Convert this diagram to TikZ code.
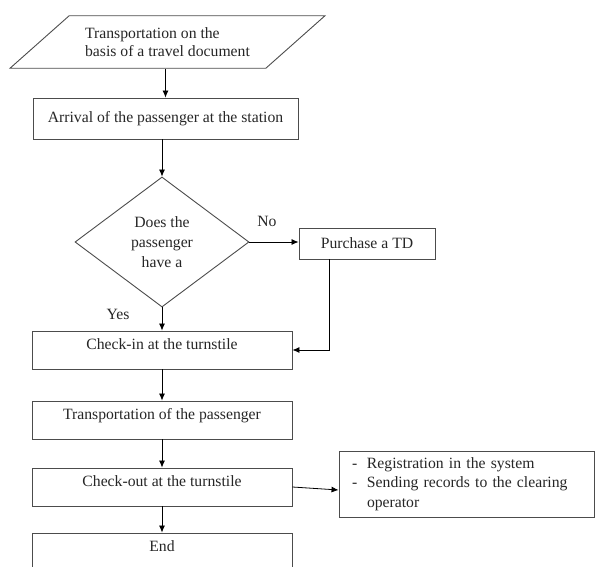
\documentclass[tikz,border=0pt]{standalone}
\usepackage{fontspec}
\setmainfont{Liberation Serif}
\usetikzlibrary{shapes.geometric,arrows.meta}

\begin{document}
\begin{tikzpicture}[x=1pt,y=-1pt,font=\fontsize{15.7}{19.5}\selectfont,color=black!85]
  \tikzstyle{box}=[draw=black!70,line width=0.9pt,rectangle,minimum width=260pt,minimum height=38pt,inner sep=0pt]
  \tikzstyle{arr}=[draw=black,line width=0.8pt,-{Latex[length=7pt,width=6pt]}]
  \newcommand\flowbox[4]{\node[box,text height=11pt,text depth=13pt] at (#1,#2) (#3) {#4};}
  \useasboundingbox (0,0) rectangle (595,567);
  \clip (0,0) rectangle (595,567);
  % start
  \node[draw=black!70,line width=0.9pt,trapezium,trapezium left angle=41.6,trapezium right angle=138.4,
        trapezium stretches body,minimum width=315pt,inner xsep=0pt,inner ysep=12pt,align=left,
        font=\fontsize{15.7}{17.5}\selectfont] at (167.5,42) (doc) {Transportation on the\\basis of a travel document};
  \node[box,minimum width=265pt,minimum height=41pt] at (165.5,118.5) (a) {Arrival of the passenger at the station};
  % decision
  \node[diamond,draw=black!70,line width=0.9pt,aspect=1.34,minimum width=174pt,minimum height=130pt,inner sep=0pt,
        align=center,font=\fontsize{15.7}{20}\selectfont] at (162,242) (q) {Does the\\passenger\\have a};
  \node at (267,221) (no) {No};
  \node at (118,314) (yes) {Yes};
  \node[box,minimum width=136pt,minimum height=31pt] at (367,243.5) (td) {Purchase a TD};
  % main column
  \flowbox{162}{350}{ci}{Check-in at the turnstile}
  \flowbox{162}{420}{tp}{Transportation of the passenger}
  \flowbox{162}{487}{co}{Check-out at the turnstile}
  \flowbox{162}{552}{end}{End}
  \node[box,minimum width=255pt,minimum height=66pt,text width=229pt,inner xsep=13pt,align=left] at (466.5,484) (rg)
    {\makebox[15pt][l]{-}Registration in the system\\\makebox[15pt][l]{-}Sending records to the clearing\\\hspace*{15pt}operator};
  \draw[arr] (doc.south -| a) -- (a);
  \draw[arr] (a.south -| q) -- (q);
  \draw[arr] (q.east) -- (q.east -| td.west);
  \draw[arr] ([xshift=31pt]td.south west) |- (ci.east);
  \draw[arr] (q) -- (ci);
  \draw[arr] (ci) -- (tp);
  \draw[arr] (tp) -- (co);
  \draw[arr] (co) -- (end);
  \draw[arr] (co.east) -- ([yshift=-6pt]rg.west);
\end{tikzpicture}
\end{document}
